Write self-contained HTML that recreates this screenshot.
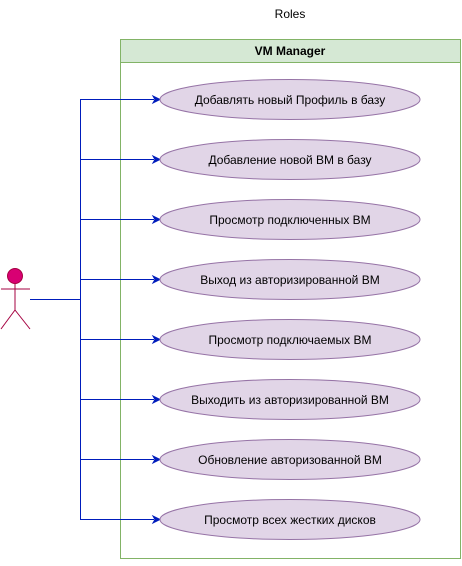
<!DOCTYPE html><html><head><style>body{margin:0;background:#fff}</style></head><body>
<svg width="462" height="561" xmlns="http://www.w3.org/2000/svg" font-family="Liberation Sans, sans-serif">
<rect width="462" height="561" fill="#fff"/>
<text x="290" y="18" font-size="12" text-anchor="middle">Roles</text>
<rect x="120.5" y="39.5" width="340" height="519" fill="#fff" stroke="#82b366"/>
<rect x="120.5" y="39.5" width="340" height="23" fill="#d5e8d4" stroke="#82b366"/>
<text x="290" y="55" font-size="12" font-weight="bold" text-anchor="middle">VM Manager</text>
<g stroke="#a50040" stroke-width="1" fill="none">
<circle cx="15" cy="276" r="7.5" fill="#d80073"/>
<line x1="15" y1="284" x2="15" y2="310"/>
<line x1="1" y1="289" x2="30" y2="289"/>
<line x1="15" y1="310" x2="1" y2="329"/>
<line x1="15" y1="310" x2="30" y2="329"/>
</g>
<g stroke="#001dbc" fill="none">
<line x1="30" y1="299.5" x2="80.5" y2="299.5"/>
<line x1="80.5" y1="99.5" x2="80.5" y2="519.5"/>
</g>
<g font-size="12" text-anchor="middle">
<g id="r">
</g>
</g>
<g font-size="12" text-anchor="middle">
<line x1="80" y1="99.5" x2="154" y2="99.5" stroke="#001dbc"/><polygon points="160,99.5 153,96 155,99.5 153,103" fill="#001dbc" stroke="#001dbc"/><ellipse cx="290" cy="99.5" rx="130" ry="20" fill="#e1d5e7" stroke="#9673a6"/><text x="290" y="104">Добавлять новый Профиль в базу</text>
<line x1="80" y1="159.5" x2="154" y2="159.5" stroke="#001dbc"/><polygon points="160,159.5 153,156 155,159.5 153,163" fill="#001dbc" stroke="#001dbc"/><ellipse cx="290" cy="159.5" rx="130" ry="20" fill="#e1d5e7" stroke="#9673a6"/><text x="290" y="164">Добавление новой ВМ в базу</text>
<line x1="80" y1="219.5" x2="154" y2="219.5" stroke="#001dbc"/><polygon points="160,219.5 153,216 155,219.5 153,223" fill="#001dbc" stroke="#001dbc"/><ellipse cx="290" cy="219.5" rx="130" ry="20" fill="#e1d5e7" stroke="#9673a6"/><text x="290" y="224">Просмотр подключенных ВМ</text>
<line x1="80" y1="279.5" x2="154" y2="279.5" stroke="#001dbc"/><polygon points="160,279.5 153,276 155,279.5 153,283" fill="#001dbc" stroke="#001dbc"/><ellipse cx="290" cy="279.5" rx="130" ry="20" fill="#e1d5e7" stroke="#9673a6"/><text x="290" y="284">Выход из авторизированной ВМ</text>
<line x1="80" y1="339.5" x2="154" y2="339.5" stroke="#001dbc"/><polygon points="160,339.5 153,336 155,339.5 153,343" fill="#001dbc" stroke="#001dbc"/><ellipse cx="290" cy="339.5" rx="130" ry="20" fill="#e1d5e7" stroke="#9673a6"/><text x="290" y="344">Просмотр подключаемых ВМ</text>
<line x1="80" y1="399.5" x2="154" y2="399.5" stroke="#001dbc"/><polygon points="160,399.5 153,396 155,399.5 153,403" fill="#001dbc" stroke="#001dbc"/><ellipse cx="290" cy="399.5" rx="130" ry="20" fill="#e1d5e7" stroke="#9673a6"/><text x="290" y="404">Выходить из авторизированной ВМ</text>
<line x1="80" y1="459.5" x2="154" y2="459.5" stroke="#001dbc"/><polygon points="160,459.5 153,456 155,459.5 153,463" fill="#001dbc" stroke="#001dbc"/><ellipse cx="290" cy="459.5" rx="130" ry="20" fill="#e1d5e7" stroke="#9673a6"/><text x="290" y="464">Обновление авторизованной ВМ</text>
<line x1="80" y1="519.5" x2="154" y2="519.5" stroke="#001dbc"/><polygon points="160,519.5 153,516 155,519.5 153,523" fill="#001dbc" stroke="#001dbc"/><ellipse cx="290" cy="519.5" rx="130" ry="20" fill="#e1d5e7" stroke="#9673a6"/><text x="290" y="524">Просмотр всех жестких дисков</text>
</g>
</svg>
</body></html>
